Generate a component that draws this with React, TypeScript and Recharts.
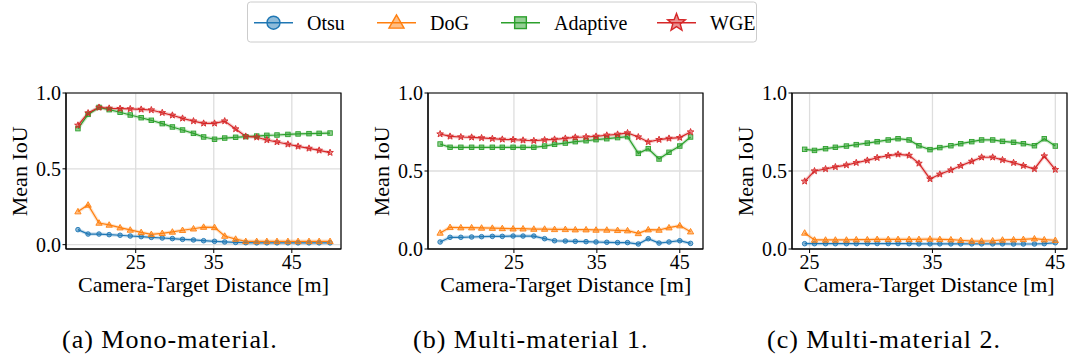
import React from "react";
import { LineChart, Line, XAxis, YAxis, CartesianGrid, ReferenceArea } from "recharts";

const methods = ["Otsu", "DoG", "Adaptive", "WGE"];
const colors = ["#1f77b4", "#ff7f0e", "#2ca02c", "#d62728"];
const shapes = ["circle", "triangle", "square", "star"];
const xTicks = [25, 35, 45];
const yTicks = [0, 0.5, 1.0];

// (a) mono-material
const distA = [17.6, 18.9, 20.3, 21.6, 23.0, 24.3, 25.7, 27.0, 28.4, 29.7, 31.0, 32.4, 33.7, 35.1, 36.4, 37.8, 39.1, 40.5, 41.8, 43.1, 44.5, 45.8, 47.2, 48.5, 49.9];
const otsuA = [0.099, 0.07, 0.07, 0.066, 0.062, 0.057, 0.053, 0.048, 0.044, 0.04, 0.035, 0.031, 0.026, 0.022, 0.018, 0.015, 0.013, 0.012, 0.012, 0.012, 0.012, 0.012, 0.012, 0.012, 0.012];
const dogA = [0.218, 0.262, 0.143, 0.13, 0.112, 0.097, 0.081, 0.068, 0.075, 0.084, 0.095, 0.105, 0.116, 0.114, 0.057, 0.037, 0.022, 0.022, 0.022, 0.022, 0.022, 0.022, 0.022, 0.022, 0.022];
const adaptiveA = [0.765, 0.859, 0.905, 0.89, 0.873, 0.855, 0.837, 0.82, 0.798, 0.776, 0.756, 0.734, 0.71, 0.695, 0.703, 0.708, 0.712, 0.716, 0.721, 0.723, 0.727, 0.73, 0.732, 0.734, 0.736];
const wgeA = [0.787, 0.868, 0.905, 0.899, 0.897, 0.895, 0.892, 0.888, 0.87, 0.853, 0.833, 0.815, 0.8, 0.8, 0.815, 0.763, 0.714, 0.708, 0.69, 0.677, 0.662, 0.648, 0.635, 0.622, 0.607];

// (b) multi-material 1
const distB = [16.1, 17.3, 18.6, 19.9, 21.1, 22.4, 23.6, 24.9, 26.1, 27.4, 28.7, 29.9, 31.2, 32.4, 33.7, 34.9, 36.2, 37.5, 38.7, 40.0, 41.2, 42.5, 43.7, 45.0, 46.3];
const otsuB = [0.045, 0.075, 0.075, 0.077, 0.079, 0.081, 0.081, 0.083, 0.083, 0.083, 0.066, 0.053, 0.051, 0.049, 0.047, 0.045, 0.043, 0.041, 0.041, 0.032, 0.066, 0.038, 0.045, 0.053, 0.036];
const dogB = [0.103, 0.139, 0.137, 0.137, 0.135, 0.134, 0.132, 0.13, 0.13, 0.128, 0.128, 0.126, 0.126, 0.124, 0.124, 0.122, 0.122, 0.12, 0.118, 0.1, 0.124, 0.122, 0.137, 0.15, 0.111];
const adaptiveB = [0.673, 0.652, 0.652, 0.652, 0.652, 0.652, 0.652, 0.652, 0.652, 0.652, 0.66, 0.671, 0.679, 0.688, 0.694, 0.701, 0.707, 0.714, 0.72, 0.613, 0.643, 0.577, 0.62, 0.66, 0.718];
const wgeB = [0.737, 0.722, 0.718, 0.716, 0.712, 0.707, 0.703, 0.701, 0.697, 0.694, 0.699, 0.703, 0.709, 0.716, 0.718, 0.722, 0.729, 0.735, 0.744, 0.718, 0.686, 0.701, 0.709, 0.714, 0.75];

// (c) multi-material 2
const distC = [24.6, 25.4, 26.3, 27.1, 28.0, 28.8, 29.7, 30.5, 31.4, 32.2, 33.1, 33.9, 34.8, 35.6, 36.5, 37.3, 38.2, 39.0, 39.9, 40.7, 41.6, 42.4, 43.3, 44.1, 45.0];
const otsuC = [0.034, 0.034, 0.034, 0.034, 0.034, 0.034, 0.035, 0.035, 0.035, 0.035, 0.034, 0.033, 0.033, 0.033, 0.033, 0.033, 0.033, 0.033, 0.033, 0.033, 0.032, 0.032, 0.032, 0.034, 0.04];
const dogC = [0.103, 0.058, 0.058, 0.058, 0.058, 0.06, 0.06, 0.062, 0.062, 0.062, 0.062, 0.062, 0.064, 0.062, 0.06, 0.056, 0.051, 0.051, 0.053, 0.058, 0.06, 0.062, 0.066, 0.06, 0.056];
const adaptiveC = [0.639, 0.632, 0.643, 0.652, 0.66, 0.669, 0.679, 0.688, 0.699, 0.707, 0.699, 0.662, 0.637, 0.65, 0.662, 0.675, 0.688, 0.699, 0.699, 0.69, 0.684, 0.675, 0.662, 0.707, 0.66];
const wgeC = [0.434, 0.5, 0.513, 0.526, 0.538, 0.553, 0.568, 0.585, 0.598, 0.607, 0.6, 0.549, 0.449, 0.479, 0.506, 0.534, 0.562, 0.588, 0.588, 0.571, 0.553, 0.534, 0.513, 0.596, 0.509];

const FONT = "Liberation Serif";

function starPath(cx: number, cy: number, R: number) {
  const r = R * 0.42;
  let d = "";
  for (let i = 0; i < 10; i++) {
    const rad = i % 2 === 0 ? R : r;
    const a = -Math.PI / 2 + (i * Math.PI) / 5;
    d += (i ? "L" : "M") + (cx + rad * Math.cos(a)).toFixed(2) + "," + (cy + rad * Math.sin(a)).toFixed(2);
  }
  return d + "Z";
}

function Marker({ shape, cx, cy, color, s, sw }: any) {
  const common = { fill: color, fillOpacity: 0.5, stroke: color, strokeWidth: sw };
  if (shape === "circle") return <circle cx={cx} cy={cy} r={s * 0.5} {...common} />;
  if (shape === "square") return <rect x={cx - s * 0.45} y={cy - s * 0.45} width={s * 0.9} height={s * 0.9} {...common} />;
  if (shape === "triangle") {
    const pts = `${cx},${cy - s * 0.6} ${cx - s * 0.58},${cy + s * 0.42} ${cx + s * 0.58},${cy + s * 0.42}`;
    return <polygon points={pts} {...common} />;
  }
  return <path d={starPath(cx, cy, s * 0.62)} {...common} />;
}

const plotSize: Record<string, number> = { circle: 4.6, square: 5, triangle: 5.4, star: 5.6 };

function Panel({ left, width, dist, series, xDomain, yDomain }: any) {
  const data = dist.map((d: number, i: number) => {
    const row: any = { d };
    methods.forEach((m, k) => (row[m] = series[k][i]));
    return row;
  });
  const tickStyle = { fontFamily: FONT, fontSize: 20, fill: "#000" };
  return (
    <div style={{ position: "absolute", left, top: 80 }}>
      <LineChart width={width} height={219} data={data} margin={{ top: 13, right: 5, bottom: 0, left: 0 }}>
        <CartesianGrid stroke="#dedede" strokeWidth={1.3} />
        <XAxis
          dataKey="d"
          type="number"
          domain={xDomain}
          ticks={xTicks}
          allowDataOverflow
          height={50}
          tick={tickStyle}
          tickSize={4}
          tickMargin={2}
          tickLine={{ stroke: "#000" }}
          axisLine={{ stroke: "#000" }}
        />
        <YAxis
          type="number"
          domain={yDomain}
          ticks={yTicks}
          allowDataOverflow
          width={66}
          tick={tickStyle}
          tickFormatter={(v: number) => v.toFixed(1)}
          tickSize={3.5}
          tickMargin={1.5}
          tickLine={{ stroke: "#000" }}
          axisLine={{ stroke: "#000" }}
        />
        {methods.map((m, k) => (
          <Line
            key={m + "-band"}
            dataKey={m}
            stroke={colors[k]}
            strokeOpacity={0.22}
            strokeWidth={3.5}
            dot={false}
            activeDot={false}
            legendType="none"
            isAnimationActive={false}
          />
        ))}
        {methods.map((m, k) => (
          <Line
            key={m}
            dataKey={m}
            stroke={colors[k]}
            strokeWidth={1.2}
            activeDot={false}
            isAnimationActive={false}
            dot={(p: any) => (
              <Marker key={`${m}-${p.index}`} shape={shapes[k]} cx={p.cx} cy={p.cy} color={colors[k]} s={plotSize[shapes[k]]} sw={0.9} />
            )}
          />
        ))}
        <ReferenceArea
          x1={xDomain[0]}
          x2={xDomain[1]}
          y1={yDomain[0]}
          y2={yDomain[1]}
          fill="none"
          stroke="#000"
          strokeWidth={1.2}
          ifOverflow="visible"
        />
      </LineChart>
    </div>
  );
}

const panels = [
  { left: 0, width: 346, plotLeft: 66, plotRight: 341, dist: distA, series: [otsuA, dogA, adaptiveA, wgeA], xDomain: [16.07, 51.3], yDomain: [-0.0286, 1.0], caption: "(a) Mono-material.", capX: 62 },
  { left: 362.3, width: 346, plotLeft: 428.3, plotRight: 703.3, dist: distB, series: [otsuB, dogB, adaptiveB, wgeB], xDomain: [14.64, 47.8], yDomain: [0, 1.0], caption: "(b) Multi-material 1.", capX: 413 },
  { left: 725.7, width: 346, plotLeft: 791.7, plotRight: 1066.7, dist: distC, series: [otsuC, dogC, adaptiveC, wgeC], xDomain: [23.57, 45.95], yDomain: [0, 1.0], caption: "(c) Multi-material 2.", capX: 767 },
];

const legendX = [254, 377, 501, 657];

export default function App() {
  return (
    <div style={{ position: "relative", width: 1069, height: 360, background: "#fff", overflow: "hidden" }}>
      <style>{"body{margin:0}"}</style>
      {panels.map((p, i) => (
        <Panel key={i} {...p} />
      ))}
      <svg width={1069} height={360} style={{ position: "absolute", left: 0, top: 0, pointerEvents: "none" }}>
        {panels.map((p, i) => {
          const yc = 171.3;
          const bx = p.plotLeft - 39;
          return (
            <g key={i} fontFamily={FONT} fill="#000">
              <text x={(p.plotLeft + p.plotRight) / 2} y={292} fontSize={22} textAnchor="middle">
                Camera-Target Distance [m]
              </text>
              <text x={bx} y={yc} fontSize={22} textAnchor="middle" transform={`rotate(-90, ${bx}, ${yc})`}>
                Mean IoU
              </text>
              <text x={p.capX} y={348} fontSize={26} letterSpacing={1}>
                {p.caption}
              </text>
            </g>
          );
        })}
        <rect x={247.5} y={2} width={509} height={40} rx={3} fill="#fff" stroke="#cccccc" strokeWidth={1} />
        {methods.map((m, k) => (
          <g key={m}>
            <line x1={legendX[k]} x2={legendX[k] + 39} y1={22.7} y2={22.7} stroke={colors[k]} strokeWidth={1.5} />
            <Marker shape={shapes[k]} cx={legendX[k] + 19.5} cy={22.7} color={colors[k]} s={shapes[k] === "star" ? 15 : 13} sw={1.4} />
            <text x={legendX[k] + 53} y={29.5} fontFamily={FONT} fontSize={20} fill="#000">
              {m}
            </text>
          </g>
        ))}
      </svg>
    </div>
  );
}
